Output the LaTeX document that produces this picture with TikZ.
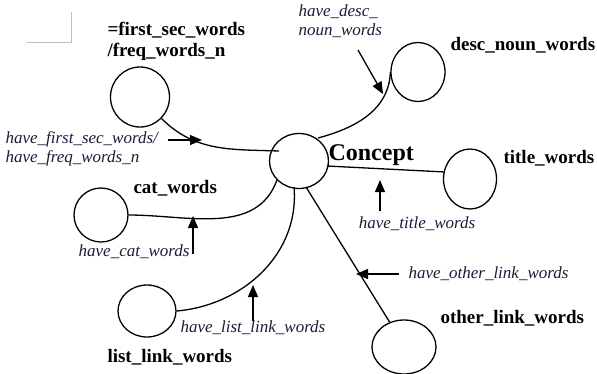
\documentclass[tikz,border=0pt]{standalone}
\usepackage{fontspec}
\setmainfont{Liberation Serif}
\usetikzlibrary{arrows.meta, shapes.geometric}
\definecolor{relink}{RGB}{28,28,58}
\tikzset{
  wordset/.style={draw, ellipse, inner sep=0pt, line width=1.3pt},
  wordname/.style={font=\fontsize{19}{21}\selectfont\bfseries, align=left},
  relname/.style={font=\fontsize{17}{19}\selectfont\itshape, text=relink, align=left},
  pointer/.style={-{Triangle[length=12pt,width=10pt]}, line width=1.3pt},
  link/.style={line width=1.3pt}
}
\begin{document}
\begin{tikzpicture}[x=1pt, y=-1pt]
  \useasboundingbox (0,0) rectangle (597,373);
  % corner mark
  \draw[black!25, line width=0.8pt] (27,42) -- (71,42) -- (71,12);

  \node[wordset, minimum width=59pt, minimum height=55pt] (c) at (299,161) {};
  \node[font=\fontsize{24}{26}\selectfont\bfseries, anchor=west] (clabel) at (325,155) {Concept};

  \node[wordset, minimum width=59pt, minimum height=60pt] (fs) at (140,97) {};
  \node[wordset, minimum width=54pt, minimum height=59pt] (dn) at (418,72) {};
  \node[wordset, minimum width=53pt, minimum height=60pt] (tw) at (470,179) {};
  \node[wordset, minimum width=54pt, minimum height=54pt] (cw) at (101,215) {};
  \node[wordset, minimum width=58pt, minimum height=52pt] (ll) at (147,311) {};
  \node[wordset, minimum width=64pt, minimum height=54pt] (ol) at (404,347) {};

  \node[wordname, anchor=west] (fslabel) at (104,41) {=first\_sec\_words\\/freq\_words\_n};
  \node[wordname, anchor=west] (dnlabel) at (447,45) {desc\_noun\_words};
  \node[wordname, anchor=west] (twlabel) at (500,158) {title\_words};
  \node[wordname, anchor=west] (cwlabel) at (130,188) {cat\_words};
  \node[wordname, anchor=west] (lllabel) at (104,357) {list\_link\_words};
  \node[wordname, anchor=west] (ollabel) at (437,318) {other\_link\_words};

  \coordinate (cin1) at (279,151);
  \coordinate (cin2) at (318,138);
  \coordinate (cin3) at (327,166);
  \coordinate (cin4) at (277,180);
  \coordinate (cin5) at (294,187);
  \coordinate (cin6) at (306,187);

  \draw[link] (fs.-45) to[out=-45, in=178] (cin1);
  \draw[link] (cin2) to[out=15, in=-92] (dn.west);
  \draw[link] (cin3) -- (tw.165);
  \draw[link] (cw.east) to[out=0, in=-110] (cin4);
  \draw[link] (ll.east) to[out=5, in=-85] (cin5);
  \draw[link] (cin6) -- (ol.120);

  \node[relname, anchor=west] (r1) at (2,149) {have\_first\_sec\_words/\\have\_freq\_words\_n};
  \node[relname, anchor=west] (r2) at (295,21) {have\_desc\_\\noun\_words};
  \node[relname, anchor=north] (r3) at (417,213) {have\_title\_words};
  \node[relname, anchor=east] (r4) at (193,252) {have\_cat\_words};
  \node[relname, anchor=west] (r5) at (177,328) {have\_list\_link\_words};
  \node[relname, anchor=west] (r6) at (405,274) {have\_other\_link\_words};

  % arrow tails and tips
  \coordinate (t1) at (168,140);  \coordinate (p1) at (202,140);
  \coordinate (t2) at (358,50);   \coordinate (p2) at (383,94);
  \coordinate (t3) at (380,211);  \coordinate (p3) at (380,180);
  \coordinate (t4) at (193,254);  \coordinate (p4) at (193,216);
  \coordinate (t5) at (253,321);  \coordinate (p5) at (253,285);
  \coordinate (t6) at (399,274);  \coordinate (p6) at (356,274);

  \foreach \i in {1,...,6}
    \draw[pointer] (t\i) -- (p\i);
\end{tikzpicture}
\end{document}
